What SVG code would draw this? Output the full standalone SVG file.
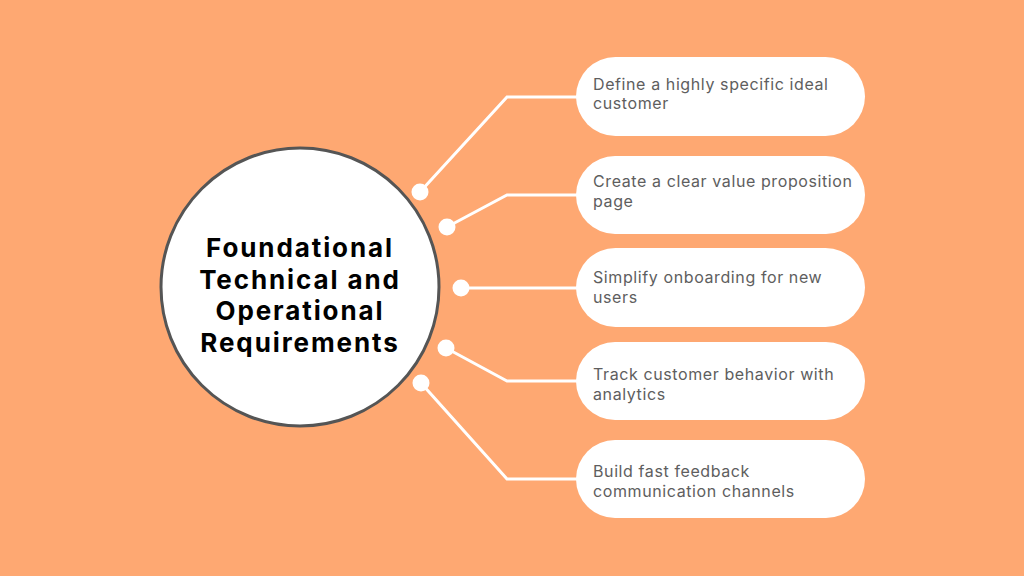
<svg xmlns="http://www.w3.org/2000/svg" width="1024" height="576" viewBox="0 0 1024 576">
<style>
.pill{fill:#ffffff}
.lbl{font-family:Inter,"Noto Sans","Liberation Sans",sans-serif;font-size:16px;letter-spacing:0.6px;fill:#5e5e5e}
.title{font-family:Inter,"Noto Sans","Liberation Sans",sans-serif;font-size:26px;font-weight:700;letter-spacing:1.9px;fill:#000000;text-anchor:middle}
.con{fill:none;stroke:#ffffff;stroke-width:3;stroke-linejoin:miter}
.dot{fill:#ffffff}
</style>
<rect width="1024" height="576" fill="#FEA872"/>
<g id="connectors">
<polyline class="con" points="420,192 507,97 578,97"/>
<polyline class="con" points="447,227 507,195 578,195"/>
<polyline class="con" points="461,288 578,288"/>
<polyline class="con" points="446,348 507,381 578,381"/>
<polyline class="con" points="421,383 507,479 578,479"/>
<circle class="dot" cx="420" cy="192" r="8.5"/>
<circle class="dot" cx="447" cy="227" r="8.5"/>
<circle class="dot" cx="461" cy="288" r="8.5"/>
<circle class="dot" cx="446" cy="348" r="8.5"/>
<circle class="dot" cx="421" cy="383" r="8.5"/>
</g>
<g id="center">
<circle cx="300" cy="287" r="139" fill="#ffffff" stroke="#555555" stroke-width="3"/>
<text class="title"><tspan x="300" y="257">Foundational</tspan><tspan x="300" y="288.5">Technical and</tspan><tspan x="300" y="320">Operational</tspan><tspan x="300" y="351.5">Requirements</tspan></text>
</g>
<g id="item1">
<rect class="pill" x="576" y="57" width="289" height="79" rx="39.5"/>
<text class="lbl"><tspan x="593" y="90">Define a highly specific ideal</tspan><tspan x="593" y="109">customer</tspan></text>
</g>
<g id="item2">
<rect class="pill" x="576" y="156" width="289" height="78" rx="39"/>
<text class="lbl"><tspan x="593" y="187">Create a clear value proposition</tspan><tspan x="593" y="207">page</tspan></text>
</g>
<g id="item3">
<rect class="pill" x="576" y="248" width="289" height="79" rx="39.5"/>
<text class="lbl"><tspan x="593" y="283">Simplify onboarding for new</tspan><tspan x="593" y="303">users</tspan></text>
</g>
<g id="item4">
<rect class="pill" x="576" y="342" width="289" height="78" rx="39"/>
<text class="lbl"><tspan x="593" y="380">Track customer behavior with</tspan><tspan x="593" y="400">analytics</tspan></text>
</g>
<g id="item5">
<rect class="pill" x="576" y="440" width="289" height="78" rx="39"/>
<text class="lbl"><tspan x="593" y="477">Build fast feedback</tspan><tspan x="593" y="497">communication channels</tspan></text>
</g>
</svg>
